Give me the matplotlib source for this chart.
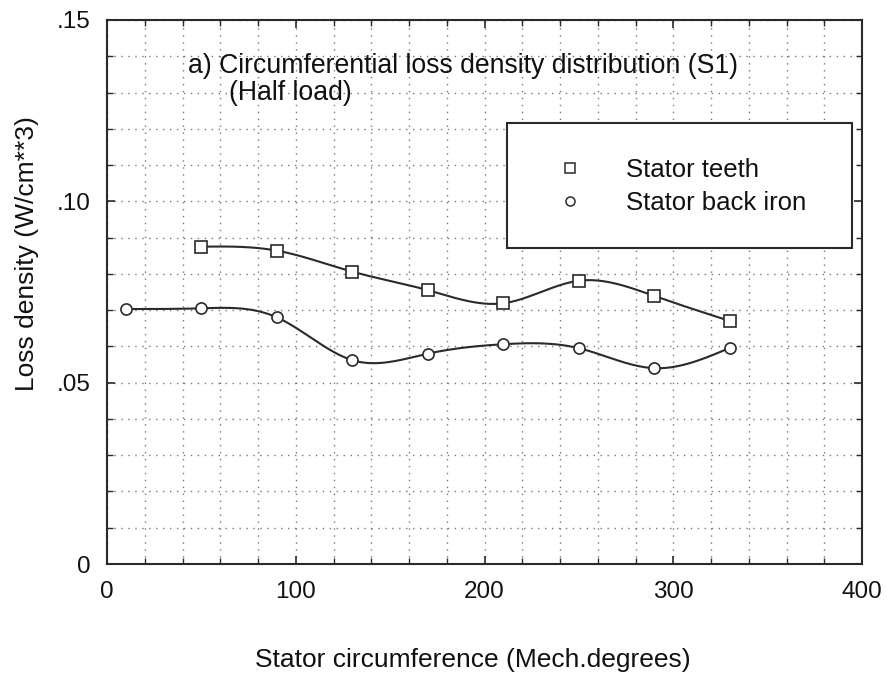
import numpy as np
import matplotlib
matplotlib.use('Agg')
import matplotlib.pyplot as plt
from matplotlib.lines import Line2D
from matplotlib.patches import Rectangle
from matplotlib.ticker import MultipleLocator, FuncFormatter

plt.rcParams['font.family'] = ['Liberation Sans', 'DejaVu Sans']

# data
teeth_x = [50, 90, 130, 170, 210, 250, 290, 330]
teeth_y = [0.0875, 0.0864, 0.0806, 0.0755, 0.0719, 0.0781, 0.0739, 0.0670]
iron_x = [10, 50, 90, 130, 170, 210, 250, 290, 330]
iron_y = [0.0703, 0.0705, 0.0680, 0.0562, 0.0580, 0.0606, 0.0595, 0.0540, 0.0596]

title_lines = ['a) Circumferential loss density distribution (S1)', '(Half load)']
legend_labels = ['Stator teeth', 'Stator back iron']


def smooth(x, y, n=300):
    # natural cubic spline through the points
    x = np.asarray(x, float)
    y = np.asarray(y, float)
    k = len(x)
    h = np.diff(x)
    A = np.zeros((k, k))
    b = np.zeros(k)
    A[0, 0] = 1
    A[-1, -1] = 1
    for i in range(1, k - 1):
        A[i, i - 1] = h[i - 1]
        A[i, i] = 2 * (h[i - 1] + h[i])
        A[i, i + 1] = h[i]
        b[i] = 6 * ((y[i + 1] - y[i]) / h[i] - (y[i] - y[i - 1]) / h[i - 1])
    M = np.linalg.solve(A, b)
    xs = np.linspace(x[0], x[-1], n)
    j = np.clip(np.searchsorted(x, xs) - 1, 0, k - 2)
    t0 = x[j + 1] - xs
    t1 = xs - x[j]
    hj = h[j]
    ys = (M[j] * t0**3 + M[j + 1] * t1**3) / (6 * hj) \
        + (y[j] / hj - M[j] * hj / 6) * t0 + (y[j + 1] / hj - M[j + 1] * hj / 6) * t1
    return xs, ys


ink = '#2a2a2a'
txt = '#111111'
fig = plt.figure(figsize=(8.92, 6.82), dpi=100)
ax = fig.add_axes([0.12, 0.173, 0.8464, 0.7977])

sx, sy = smooth(teeth_x, teeth_y)
ax.plot(sx, sy, color=ink, lw=1.5, zorder=3)
ax.plot(teeth_x, teeth_y, 's', ms=8, mfc='white', mec=ink, mew=1.2, zorder=4)
cx, cy = smooth(iron_x, iron_y)
ax.plot(cx, cy, color=ink, lw=1.5, zorder=3)
ax.plot(iron_x, iron_y, 'o', ms=8, mfc='white', mec=ink, mew=1.2, zorder=4)

ax.set_xlim(0, 400)
ax.set_ylim(0, 0.15)
ax.xaxis.set_major_locator(MultipleLocator(100))
ax.xaxis.set_minor_locator(MultipleLocator(20))
ax.yaxis.set_major_locator(MultipleLocator(0.05))
ax.yaxis.set_minor_locator(MultipleLocator(0.01))
ax.yaxis.set_major_formatter(FuncFormatter(lambda v, p: '0' if abs(v) < 1e-9 else ('%.2f' % v)[1:]))
ax.tick_params(which='both', direction='in', top=True, right=True, colors=ink, labelcolor=txt)
ax.tick_params(which='major', length=6, width=1.2, labelsize=17.5)
ax.tick_params(axis='x', which='major', pad=12)
ax.tick_params(axis='y', which='major', pad=12)
ax.tick_params(which='minor', length=4, width=1)
ax.grid(which='both', linestyle=(0, (1, 4)), color='#777777', lw=1.0)
for s in ax.spines.values():
    s.set_color(ink)
    s.set_linewidth(1.5)

ax.set_xlabel('Stator circumference (Mech.degrees)', fontsize=19, color=txt)
ax.xaxis.set_label_coords(0.485, -0.155)
ax.set_ylabel('Loss density (W/cm**3)', fontsize=19, color=txt)
ax.yaxis.set_label_coords(-0.09, 0.57)

ax.text(0.107, 0.915, title_lines[0], transform=ax.transAxes, fontsize=19.2,
        va='center', ha='left', color=txt, zorder=5)
ax.text(0.161, 0.866, title_lines[1], transform=ax.transAxes, fontsize=19.2,
        va='center', ha='left', color=txt, zorder=5)

box = Rectangle((0.53, 0.581), 0.457, 0.23, transform=ax.transAxes,
                facecolor='white', edgecolor=ink, lw=1.5, zorder=5)
ax.add_patch(box)
handles = [Line2D([], [], marker='s', ls='none', ms=6.5, mfc='white', mec=ink, mew=1.1),
           Line2D([], [], marker='o', ls='none', ms=6.5, mfc='white', mec=ink, mew=1.1)]
leg = ax.legend(handles, legend_labels, loc='center left', bbox_to_anchor=(0.596, 0.694),
                frameon=False, fontsize=18.5, handlelength=1, handletextpad=1.67,
                labelspacing=0.35, borderpad=0, borderaxespad=0)
leg.set_zorder(6)
for t in leg.get_texts():
    t.set_color(txt)

fig.savefig('out.png', dpi=100)
